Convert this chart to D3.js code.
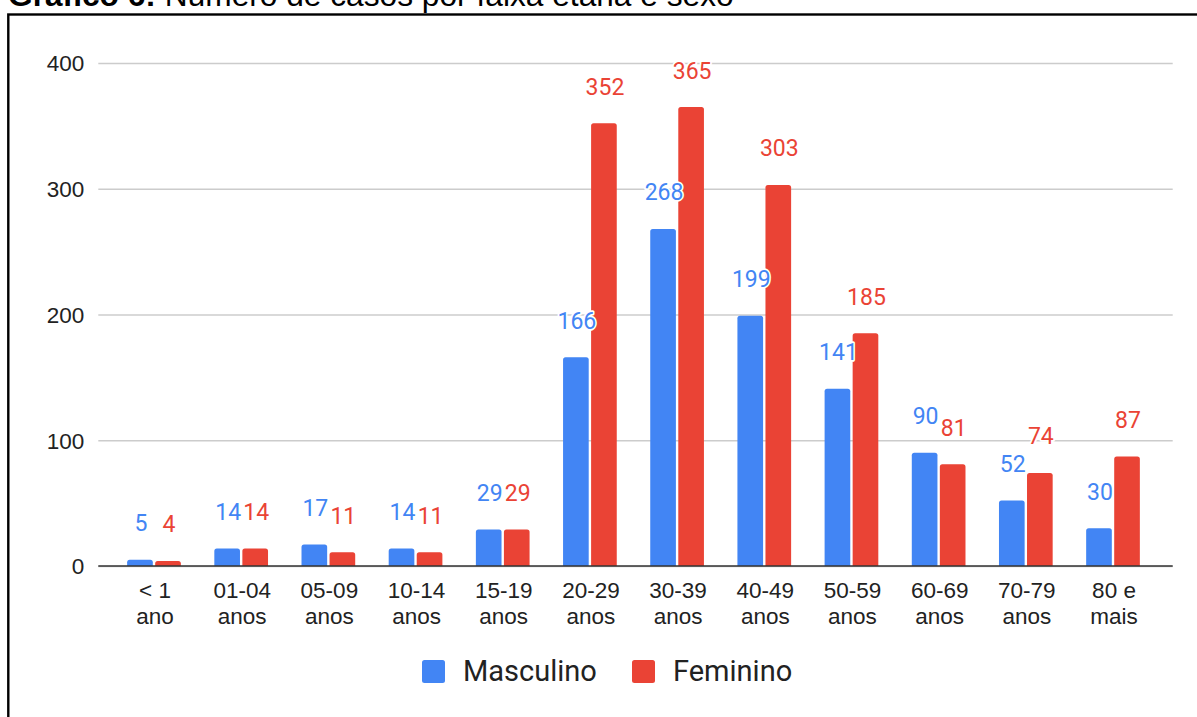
<!DOCTYPE html>
<html>
<head>
<meta charset="utf-8">
<script src="https://cdn.jsdelivr.net/npm/d3@7"></script>
<style>
  html, body { margin: 0; padding: 0; background: #fff; overflow: hidden; }
  svg { display: block; }
</style>
</head>
<body>
<svg id="chart" width="1197" height="717"></svg>
<script>
// ---- data ----
const titleBold = "Gráfico 6:";
const titleRest = " Número de casos por faixa etária e sexo";
const categories = ["< 1\nano", "01-04\nanos", "05-09\nanos", "10-14\nanos", "15-19\nanos", "20-29\nanos",
                    "30-39\nanos", "40-49\nanos", "50-59\nanos", "60-69\nanos", "70-79\nanos", "80 e\nmais"];
const seriesNames = ["Masculino", "Feminino"];
const masculino = [5, 14, 17, 14, 29, 166, 268, 199, 141, 90, 52, 30];
const feminino  = [4, 14, 11, 11, 29, 352, 365, 303, 185, 81, 74, 87];
const yTicks = [0, 100, 200, 300, 400];
const colors = ["#4285F4", "#EA4335"];

// ---- layout ----
const svg = d3.select("#chart");
const gridX0 = 98.3, gridX1 = 1172.7;
const x = d3.scaleBand().domain(d3.range(categories.length)).range([110.4, 1156.6]).padding(0);
const groupW = 53.7;
const y = d3.scaleLinear().domain([0, 400]).range([566, 63]);

// outer frame
svg.append("rect")
  .attr("x", 8.3).attr("y", 14.5)
  .attr("width", 1400).attr("height", 900)
  .attr("fill", "none").attr("stroke", "#000").attr("stroke-width", 2.4);

// title (mostly cut off at the top, as in the reference)
const t = svg.append("text").attr("x", 8).attr("y", 6)
  .attr("font-family", "Liberation Sans, Arial, sans-serif").attr("font-size", 31.7).attr("fill", "#000");
t.append("tspan").attr("font-weight", "bold").text(titleBold);
t.append("tspan").text(titleRest);

// y axis with gridlines
const yAxis = d3.axisLeft(y).tickValues(yTicks).tickFormat(d3.format("d"))
  .tickSizeInner(-(gridX1 - gridX0)).tickSizeOuter(0).tickPadding(14);
const yg = svg.append("g").attr("transform", `translate(${gridX0},0)`).call(yAxis);
yg.select(".domain").remove();
yg.selectAll(".tick line").attr("stroke", "#cccccc").attr("stroke-width", 1.3);
yg.selectAll(".tick text")
  .attr("font-family", "Liberation Sans, Arial, sans-serif").attr("font-size", 22.5)
  .attr("fill", "#222").attr("dy", "0.35em");

// bars
const data = categories.map((c, i) => ({i, values: [masculino[i], feminino[i]]}));
const x1 = d3.scaleBand().domain([0, 1]).range([0, groupW]).paddingInner(0.085).paddingOuter(0);

function barPath(x0, w, yTop, yBase, r) {
  r = Math.min(r, (yBase - yTop), w / 2);
  return `M${x0},${yBase}V${yTop + r}Q${x0},${yTop} ${x0 + r},${yTop}H${x0 + w - r}Q${x0 + w},${yTop} ${x0 + w},${yTop + r}V${yBase}Z`;
}

const groups = svg.append("g").selectAll("g").data(data).join("g")
  .attr("transform", d => `translate(${x(d.i) + x.bandwidth() / 2 - groupW / 2},0)`);
groups.selectAll("path").data(d => d.values.map((v, s) => ({v, s}))).join("path")
  .attr("d", d => barPath(x1(d.s), x1.bandwidth(), y(d.v), y(0), 2.5))
  .attr("fill", d => colors[d.s]);

// zero axis line
svg.append("line").attr("x1", gridX0).attr("x2", gridX1).attr("y1", y(0)).attr("y2", y(0))
  .attr("stroke", "#333").attr("stroke-width", 1.6);

// x axis labels
const xAxis = d3.axisBottom(x).tickSize(0).tickFormat("");
const xg = svg.append("g").attr("transform", `translate(0,${y(0)})`).call(xAxis);
xg.select(".domain").remove();
xg.selectAll(".tick text").remove();
xg.selectAll(".tick").append("text")
  .attr("text-anchor", "middle")
  .attr("font-family", "Liberation Sans, Arial, sans-serif").attr("font-size", 22.5).attr("fill", "#222")
  .each(function(d) {
    const lines = categories[d].split("\n");
    const el = d3.select(this);
    lines.forEach((ln, k) => el.append("tspan").attr("x", 1).attr("y", 32.3 + k * 25.7).text(ln));
  });

// data labels (drawn after all bars)
const labels = svg.append("g").selectAll("g").data(data).join("g")
  .attr("transform", d => `translate(${x(d.i) + x.bandwidth() / 2 - groupW / 2},0)`);
labels.selectAll("text").data(d => d.values.map((v, s) => ({v, s}))).join("text")
  .attr("x", d => x1(d.s) + x1.bandwidth() / 2 + 1)
  .attr("y", d => y(d.v) - 28.5)
  .attr("text-anchor", "middle")
  .attr("font-family", "Roboto, sans-serif").attr("font-size", 23)
  .attr("fill", d => colors[d.s])
  .attr("stroke", "#fff").attr("stroke-width", 3.5).attr("paint-order", "stroke")
  .attr("stroke-linejoin", "round")
  .text(d => d.v);

// legend
const legendX = [422, 632];
const lg = svg.append("g").selectAll("g").data(seriesNames).join("g")
  .attr("transform", (d, i) => `translate(${legendX[i]},660)`);
lg.append("rect").attr("width", 23).attr("height", 23).attr("rx", 2.5)
  .attr("fill", (d, i) => colors[i]);
lg.append("text").attr("x", 41).attr("y", 21)
  .attr("font-family", "Roboto, sans-serif").attr("font-size", 29).attr("fill", "#222")
  .text(d => d);
</script>
</body>
</html>
